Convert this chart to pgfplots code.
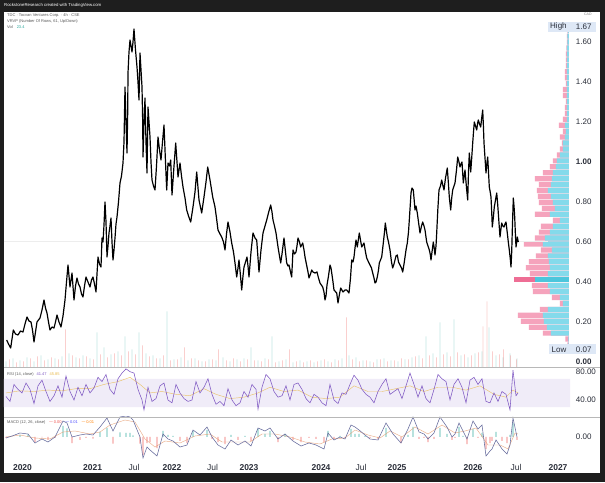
\documentclass[border=0pt]{standalone}
\usepackage{pgfplots}
\pgfplotsset{compat=1.18}
\usepackage{fontspec}
\setmainfont{Liberation Sans}
\definecolor{frame}{HTML}{1E1E1E}
\definecolor{axtext}{HTML}{2A2E39}
\definecolor{vcyan}{HTML}{84DAEB}
\definecolor{vpink}{HTML}{F5A3BC}
\definecolor{pcyan}{HTML}{4CC6DC}
\definecolor{ppink}{HTML}{EE6E95}
\definecolor{volup}{HTML}{26A69A}
\definecolor{voldn}{HTML}{EF5350}
\definecolor{rsic}{HTML}{7E57C2}
\definecolor{rsiband}{HTML}{F0ECF8}
\definecolor{rsima}{HTML}{E9B949}
\definecolor{macdc}{HTML}{656A9C}
\definecolor{sigc}{HTML}{E59A6C}
\definecolor{boxc}{HTML}{DEE8F6}
\definecolor{sep}{HTML}{B8B8B8}
\pgfplotsset{
  pane/.style={scale only axis, width=566pt, xmin=4, xmax=570,
    axis line style={draw=none}, tick style={draw=none}, major tick length=0pt,
    xtick=\empty, ytick pos=right,
    yticklabel style={anchor=west, inner sep=0pt, xshift=5.7pt,
      font=\fontsize{8}{9}\selectfont, text=axtext}},
}
\begin{document}
\begin{tikzpicture}[x=1pt,y=1pt]
\fill[frame] (0,0) rectangle (605,482);
\fill[white] (4,9) rectangle (600,470);
\useasboundingbox (0,0) rectangle (605,482);
\node[anchor=west, text=white, font=\fontsize{4.3}{5}\selectfont, inner sep=0pt] at (4,476.5) {RockstoneResearch created with TradingView.com};

% ---------- volume ----------
\begin{axis}[pane, at={(4pt,114.5pt)}, anchor=south west, height=355.5pt,
  ymin=0, ymax=355.5, ytick=\empty, ybar, bar width=0.7]
\addplot[draw=none, fill=volup, fill opacity=0.28, bar shift=0pt] coordinates {
(6,6)(13,9)(20,7)(27,10)(34,6)(41,12)(48,8)(55,9)(62,11)(69,14)(76,10)(83,12)(90,9)(97,35)(104,20)(111,13)(118,16)(125,31)(132,18)(139,35)(146,14)(153,12)(160,9)(167,56)(174,8)(181,10)(188,7)(195,9)(202,6)(209,8)(216,7)(223,10)(230,6)(237,8)(244,9)(251,20)(258,7)(265,9)(272,31)(279,6)(286,8)(293,5)(300,7)(307,6)(314,5)(321,7)(328,6)(335,8)(342,9)(349,12)(356,10)(363,7)(370,6)(377,8)(384,9)(391,7)(398,6)(405,8)(412,10)(419,12)(426,31)(433,14)(440,45)(447,15)(454,48)(461,12)(468,10)(475,14)(482,16)(489,40)(496,12)(503,10)(510,14)(517,9)};
\addplot[draw=none, fill=voldn, fill opacity=0.28, bar shift=0pt] coordinates {
(9.5,8)(16.5,5)(23.5,6)(30.5,9)(37.5,11)(44.5,7)(51.5,10)(58.5,8)(65.5,38)(72.5,12)(79.5,9)(86.5,11)(93.5,8)(100.5,13)(107.5,10)(114.5,14)(121.5,12)(128.5,16)(135.5,13)(142.5,22)(149.5,11)(156.5,9)(163.5,12)(170.5,7)(177.5,8)(184.5,20)(191.5,9)(198.5,7)(205.5,6)(212.5,8)(218.5,18)(226.5,7)(233.5,9)(240.5,6)(247.5,8)(254.5,7)(261.5,6)(268.5,8)(275.5,5)(282.5,7)(289.5,18)(296.5,6)(303.5,5)(310.5,7)(317.5,6)(324.5,8)(331.5,5)(338.5,7)(346.5,50)(352.5,8)(359.5,6)(366.5,7)(373.5,5)(380.5,8)(387.5,6)(394.5,7)(401.5,9)(408.5,8)(415.5,11)(422.5,9)(429.5,12)(436.5,10)(443.5,13)(450.5,11)(457.5,15)(464.5,13)(471.5,12)(478.5,15)(483,41)(487,66)(492.5,16)(499.5,13)(503.5,18)(510.5,12)(516.5,8)};
\end{axis}

% ---------- volume profile ----------
\begin{axis}[pane, at={(4pt,114.5pt)}, anchor=south west, height=355.5pt,
  x dir=reverse, xmin=-1, xmax=565, ymin=-0.0275, ymax=1.75, ytick=\empty,
  xbar, bar width=0.026]
\addplot[draw=none, fill=vpink, bar shift=0pt] table[x=tot, y=p] {
p tot
0.0850 1.5
0.1147 3.5
0.1444 26
0.1741 40
0.2038 48
0.2335 51
0.2632 29
0.2929 9
0.3226 17
0.3523 36
0.3820 37
0.4414 39
0.4711 43
0.5008 40
0.5305 33
0.5602 28
0.5899 45
0.6196 34
0.6493 30
0.6790 28
0.7087 16
0.7384 34
0.7681 27
0.7978 30
0.8275 31
0.8572 32
0.8869 30
0.9166 34
0.9463 26
0.9760 19
1.0057 16
1.0354 12
1.0651 9
1.0948 7
1.1245 9
1.1542 6
1.1839 10
1.2136 6
1.2433 4
1.2730 4
1.3027 3
1.3324 6
1.3621 6
1.3918 3
1.4215 4
1.4512 4
1.4809 3
1.5106 3
1.5403 3
1.5700 2.5
1.5997 2
1.6294 2
1.6591 1.5
};
\addplot[draw=none, fill=vcyan, bar shift=0pt] table[x=up, y=p] {
p up
0.0850 0.5
0.1147 0.5
0.1444 18
0.1741 22
0.2038 25
0.2335 26
0.2632 21
0.2929 6
0.3226 9
0.3523 19
0.3820 21
0.4414 21
0.4711 19
0.5008 20
0.5305 21
0.5602 17
0.5899 26
0.6196 24
0.6493 19
0.6790 16
0.7087 9
0.7384 19
0.7681 14
0.7978 16
0.8275 18
0.8572 21
0.8869 18
0.9166 17
0.9463 16
0.9760 13
1.0057 12
1.0354 9
1.0651 6
1.0948 6
1.1245 4
1.1542 3
1.1839 4
1.2136 2
1.2433 2
1.2730 2
1.3027 2
1.3324 2
1.3621 2
1.3918 2
1.4215 2
1.4512 2
1.4809 2
1.5106 2
1.5403 2
1.5700 2
1.5997 1.5
1.6294 1.5
1.6591 1
};
\addplot[draw=none, fill=ppink, bar shift=0pt] coordinates {(55,0.4117)};
\addplot[draw=none, fill=pcyan, bar shift=0pt] coordinates {(34,0.4117)};
\end{axis}

% ---------- price ----------
\begin{axis}[pane, at={(4pt,114.5pt)}, anchor=south west, height=355.5pt,
  ymin=-0.0275, ymax=1.75,
  ytick={0,0.2,0.4,0.6,0.8,1.0,1.2,1.4,1.6},
  yticklabels={\textbf{0.00},0.20,0.40,0.60,0.80,\textbf{1.00},1.20,1.40,1.60}]
\addplot[gray!14, line width=0.4pt] coordinates {(4,0.605) (548,0.605)};
\addplot[black, line width=1.2pt, line join=round] table {
6.7 0.11
8.5 0.09
10.7 0.07
13.3 0.16
15.5 0.14
18 0.135
20.5 0.155
23 0.15
25 0.19
27 0.225
29 0.205
31 0.20
32.5 0.16
34 0.10
35.5 0.15
37 0.20
40 0.22
42 0.26
44 0.31
45.5 0.27
47 0.245
48.5 0.20
50 0.16
52 0.175
54 0.17
55.5 0.20
57 0.235
59 0.20
61 0.175
63 0.23
65 0.31
66.5 0.40
68 0.485
69 0.43
70 0.375
72 0.445
74 0.31
75.5 0.38
77 0.42
78.5 0.39
80 0.375
81.5 0.34
83 0.325
84.5 0.38
86 0.425
88 0.40
90 0.375
91.5 0.41
93 0.425
94.5 0.39
96 0.35
97 0.44
98 0.525
99.5 0.49
101 0.475
102 0.62
103 0.60
104 0.685
105 0.80
106 0.70
107 0.525
108 0.58
109 0.645
110 0.68
111 0.72
112 0.60
113 0.51
114 0.56
115 0.62
116 0.69
117 0.725
118.5 0.80
120 0.895
121.5 0.93
123 0.995
124 1.10
125 1.375
126 1.20
127 1.045
127.7 1.25
128 1.445
129 1.55
130 1.61
131 1.58
132 1.55
133 1.60
134 1.665
135.5 1.56
137 1.475
138 1.40
139 1.31
140 1.545
141 1.46
142 1.375
142.7 1.20
143 1.025
144 1.20
145 1.32
146 1.10
147 0.945
148 1.275
149 1.20
150 1.125
151 1.00
152 0.91
153.5 0.88
155 0.86
156.5 0.98
158 1.125
159.5 1.06
161 1.01
162.5 1.10
164 1.185
165.5 1.00
166.7 0.86
168 0.995
169.5 0.98
170.7 1.01
172 0.835
174 0.98
175.7 1.095
177 1.00
178 0.925
180 0.995
181.5 0.93
183 0.875
185 0.82
186.7 0.76
188.5 0.73
190.7 0.70
193 0.775
195 0.85
196.7 0.95
199 0.81
201.7 0.745
204 0.825
206 0.90
207.7 0.975
210 0.91
212.7 0.825
215 0.775
216.5 0.72
218 0.66
220 0.64
221.7 0.625
223.5 0.60
225 0.56
226.5 0.64
228 0.70
230 0.65
231.7 0.595
233.5 0.55
235 0.495
236.7 0.425
238 0.47
239 0.51
240.5 0.43
241.7 0.36
243 0.43
244 0.475
245.5 0.50
247 0.525
248 0.48
249 0.425
251 0.55
253 0.645
255 0.62
256.7 0.61
258 0.52
259 0.45
261 0.56
263 0.645
265 0.68
266.7 0.71
268.7 0.75
270.7 0.785
272 0.75
273 0.71
274.5 0.68
276 0.645
277 0.61
278 0.575
279.5 0.53
280.7 0.495
282 0.54
284 0.62
285.5 0.55
286.7 0.495
288 0.48
289 0.485
290.5 0.45
291.7 0.425
293 0.56
294.5 0.54
296 0.55
297 0.58
298 0.62
299.5 0.60
300.7 0.575
302.7 0.595
304 0.56
305 0.525
307 0.475
308 0.45
309 0.42
310.5 0.44
311.7 0.46
313 0.45
315 0.445
317 0.45
318.5 0.42
320 0.395
322.7 0.375
324 0.35
325 0.31
326 0.33
327 0.385
328.5 0.43
330 0.485
331 0.47
332 0.435
333 0.40
334 0.36
336.7 0.345
338 0.295
339.5 0.34
340.7 0.37
343 0.35
345 0.36
346.7 0.36
349 0.345
350.5 0.42
351.7 0.51
353 0.50
354 0.525
355 0.57
356 0.61
357.3 0.575
359.3 0.645
360.5 0.61
361.7 0.575
364 0.595
365.5 0.55
366.7 0.52
368.5 0.50
370 0.485
371.5 0.47
372.7 0.445
374 0.42
375 0.395
376 0.40
377.3 0.425
378.5 0.46
379.3 0.495
381.7 0.525
383.3 0.595
384.5 0.65
385.3 0.695
386.3 0.66
387.3 0.625
388.5 0.60
390 0.56
391.5 0.50
392.7 0.47
394 0.49
395 0.51
396 0.53
397.3 0.535
398.5 0.50
400 0.485
401.5 0.47
402.7 0.45
404 0.49
405 0.525
406 0.56
407.3 0.595
408.5 0.65
409.3 0.71
410.2 0.78
411 0.845
412 0.87
413.3 0.86
414 0.82
415 0.76
416 0.78
417.3 0.745
418.5 0.70
420 0.645
421.5 0.68
422.7 0.70
424 0.68
425 0.66
426.7 0.60
428 0.58
429.3 0.56
430.2 0.54
431 0.51
432 0.55
433.3 0.60
434.2 0.57
435 0.535
436 0.58
436.7 0.645
437.8 0.76
439 0.86
440.5 0.88
441.7 0.91
443 0.88
444 0.86
445.5 0.92
447.3 0.97
448.3 0.90
449.3 0.825
450.7 0.76
451.7 0.82
452.7 0.86
454 0.88
455 0.895
456.5 0.96
457.7 1.025
459 1.00
460 0.975
461 0.99
462 1.00
463.3 0.895
464.2 0.93
465 0.96
466 0.90
466.7 0.86
467.7 0.81
468.5 0.95
469.3 1.045
470 1.00
470.7 0.95
471.7 1.02
472.7 1.095
473.5 1.15
474.3 1.20
475.5 1.18
476.7 1.16
477.5 1.19
478.3 1.21
479.5 1.19
480.7 1.175
481.7 1.22
482.7 1.26
483.4 1.18
484 1.095
485 1.02
486 0.945
486.8 0.99
487.7 1.025
488.5 0.95
489.3 0.875
490.2 0.85
491 0.825
491.7 0.75
492.3 0.675
493.3 0.72
494.3 0.775
495.5 0.81
496.7 0.845
497.5 0.80
498.3 0.745
499.2 0.68
500 0.625
500.8 0.66
501.7 0.695
502.8 0.68
504 0.675
505 0.69
506 0.70
506.7 0.67
507.3 0.645
508.3 0.60
509.3 0.56
510.2 0.52
511 0.475
511.7 0.55
512.3 0.66
512.8 0.74
513.3 0.82
514 0.78
514.7 0.725
515.3 0.65
516 0.575
516.7 0.60
517.3 0.625
518.3 0.60
};
\end{axis}

% ---------- RSI ----------
\begin{axis}[pane, at={(4pt,65pt)}, anchor=south west, height=49.5pt,
  ymin=16, ymax=85.9, ytick={40,80}, yticklabels={40.00,80.00}]
\addplot[draw=none, fill=rsiband] coordinates {(4,30) (570,30) (570,70) (4,70) (4,30)};
\addplot[rsima, line width=0.45pt, opacity=0.8] coordinates {
(6,50)(20,53)(34,52)(48,54)(62,53)(76,56)(90,56)(104,62)(118,66)(130,72)(140,62)(150,50)(162,52)(176,48)(190,46)(204,56)(216,48)(230,42)(244,44)(258,50)(270,58)(284,52)(298,54)(312,44)(326,42)(340,44)(354,60)(368,52)(382,52)(396,56)(410,60)(424,52)(438,58)(452,58)(466,54)(480,60)(494,48)(506,44)(513,54)(518,50)};
\addplot[rsic, line width=0.55pt] coordinates {
(6,45)(10,38)(14,62)(18,55)(22,50)(26,64)(30,55)(34,35)(38,60)(42,68)(46,52)(50,38)(54,46)(58,60)(62,44)(66,74)(70,52)(74,40)(78,58)(82,46)(86,62)(90,50)(94,57)(98,72)(102,66)(106,76)(110,55)(114,48)(118,70)(122,78)(126,84)(130,80)(134,78)(138,55)(142,40)(144,26)(148,58)(152,38)(156,42)(160,60)(164,64)(168,40)(172,36)(176,62)(180,50)(184,42)(188,38)(192,40)(196,66)(200,50)(204,58)(208,70)(212,48)(216,34)(220,38)(224,32)(228,56)(232,40)(236,32)(240,36)(244,52)(248,44)(252,62)(256,55)(258,27)(262,58)(266,76)(270,70)(274,52)(278,44)(282,46)(286,60)(290,40)(294,62)(298,64)(302,55)(306,42)(310,36)(314,48)(318,44)(322,36)(326,32)(330,62)(334,40)(338,35)(342,50)(346,48)(350,62)(354,75)(358,68)(362,55)(366,48)(370,44)(374,36)(378,52)(382,62)(386,70)(390,48)(394,52)(398,56)(402,42)(406,60)(410,78)(414,62)(418,44)(422,60)(426,42)(430,36)(434,55)(438,76)(442,70)(446,66)(450,40)(454,62)(458,70)(462,58)(466,36)(470,68)(474,72)(478,62)(482,70)(486,38)(490,36)(494,50)(498,38)(502,52)(506,48)(510,26)(513,82)(516,46)(518,50)};
\end{axis}

% ---------- MACD ----------
\begin{axis}[pane, at={(4pt,22pt)}, anchor=south west, height=43pt,
  ymin=-23, ymax=20, ytick={0}, yticklabels={0.00},
  xtick={22.5,92.6,134,172,212.6,249,321,361,397,473,516,558},
  xticklabels={\textbf{2020},\textbf{2021},Jul,\textbf{2022},Jul,\textbf{2023},\textbf{2024},Jul,\textbf{2025},\textbf{2026},Jul,\textbf{2027}},
  xticklabel style={anchor=base, inner sep=0pt, yshift=-10pt, font=\fontsize{8.5}{10}\selectfont, text=axtext}]
\addplot[ybar, bar width=1.3, bar shift=0pt, draw=none, fill=volup, fill opacity=0.5] coordinates {
(12,0)(20,2)(28,2.5)(63,11)(67,8.7)(100,5)(107,9)(120,4.7)(126,4)(130,4)(133,1.6)(163,6)(168,2)(173,1)(193,6)(207,7)(231,2)(245,1)(258,8)(265,3)(270,6)(285,3)(328,6)(340,1)(351,8)(355,3)(359,3)(365,1)(386,9)(408,2)(413,10)(440,9)(447,3)(459,10)(463,1)(473,8)(482,4)(496,5)(510,2)(513,14)};
\addplot[ybar, bar width=1.3, bar shift=0pt, draw=none, fill=voldn, fill opacity=0.5] coordinates {
(6,-1)(35,-5)(42,-0.5)(48,-3)(55,-1)(72,-6)(80,-3)(86,-1)(93,-1.6)(113,-6.6)(140,-6.5)(143,-18)(147,-6)(150,-5)(157,-11)(180,-4)(187,-6)(212,-2)(218,-5)(225,-7)(238,-3)(251,-4)(278,-5)(293,-3)(301,-5)(309,-1)(316,-2)(324,-5)(334,-2)(345,-1)(370,-1)(378,-2)(401,-6)(419,-2)(424,-1)(428,-5)(434,-2)(452,-3)(455,-1)(467,-7)(478,-1)(486,-12)(490,-6)(492,-4)(502,-4)(507,-6)(517,-3)};
\addplot[sigc, line width=0.45pt, opacity=0.8] coordinates {
(6,0)(20,2)(35,-1)(50,-2)(63,5)(75,6)(90,3)(100,5)(110,12)(125,17)(135,15)(145,-2)(155,-10)(165,-4)(180,-6)(195,1)(210,3)(222,-5)(235,-5)(250,-5)(262,3)(275,3)(290,0)(305,-5)(320,-7)(332,-2)(345,-1)(355,7)(368,2)(380,-1)(390,6)(402,0)(415,10)(428,3)(442,12)(455,4)(465,6)(476,9)(488,-8)(500,-8)(508,-12)(515,4)(518,3)};
\addplot[macdc, line width=0.55pt] coordinates {
(6,-1)(12,1)(20,4)(28,3)(35,-6)(42,-2)(48,-5)(55,0)(63,16)(67,14)(72,0)(80,2)(86,3)(93,2)(100,10)(107,19)(113,6)(120,20)(126,21)(130,20)(133,17)(140,0)(143,-21)(147,-10)(150,-13)(157,-19)(163,3)(168,-2)(173,-4)(180,-10)(187,-8)(193,7)(200,2)(207,10)(212,0)(218,-8)(225,-12)(231,-3)(238,-8)(245,-4)(251,-9)(258,9)(265,6)(270,9)(278,-2)(285,3)(293,-4)(301,-9)(309,-6)(316,-8)(324,-12)(328,4)(334,-3)(340,0)(345,-2)(351,12)(355,10)(359,7)(365,2)(370,-2)(378,-3)(386,14)(393,3)(401,-6)(408,8)(413,20)(419,5)(424,3)(428,-2)(434,4)(440,20)(447,10)(452,0)(455,3)(459,14)(463,6)(467,-2)(473,16)(478,8)(482,12)(486,-19)(490,-14)(492,-12)(496,-3)(502,-12)(507,-17)(510,-8)(513,19)(517,0)};
\end{axis}

% ---------- pane separators ----------
\draw[sep, line width=0.8pt] (4,114.5) -- (600,114.5);
\draw[sep, line width=0.8pt] (4,65) -- (600,65);

% ---------- legends ----------
\begin{scope}[every node/.style={anchor=west, inner sep=0pt, font=\fontsize{4}{5}\selectfont, text=black!65}]
\node at (7,467) {TDC · Tocvan Ventures Corp. · 4h · CSE};
\node at (7,461) {VRVP (Number Of Rows, 61, Up/Down)};
\node at (7,455) {Vol\hspace{4pt}\textcolor{volup}{23.4}};
\node at (7,108) {RSI (14, close)\hspace{3pt}\textcolor{rsic}{41.47}\hspace{3pt}\textcolor{rsima}{45.85}};
\node at (7,60) {MACD (12, 26, close)\hspace{3pt}\textcolor{voldn}{$-$0.00}\hspace{3pt}\textcolor{blue!70}{$-$0.01}\hspace{3pt}\textcolor{orange}{$-$0.01}};
\node[text=black!50, font=\fontsize{3.5}{4}\selectfont] at (584,468) {CAD};
\end{scope}

% ---------- high / low boxes ----------
\fill[boxc] (548,450.3) rectangle (596,460.3);
\node[anchor=west, inner sep=0pt, font=\fontsize{8}{9}\selectfont, text=axtext] at (550,455.3) {High};
\node[anchor=west, inner sep=0pt, font=\fontsize{8}{9}\selectfont, text=axtext] at (575.7,455.3) {1.67};
\fill[boxc] (549,128) rectangle (596,137.5);
\node[anchor=west, inner sep=0pt, font=\fontsize{8}{9}\selectfont, text=axtext] at (551.5,132.7) {Low};
\node[anchor=west, inner sep=0pt, font=\fontsize{8}{9}\selectfont, text=axtext] at (575.7,132.7) {0.07};
\end{tikzpicture}
\end{document}
